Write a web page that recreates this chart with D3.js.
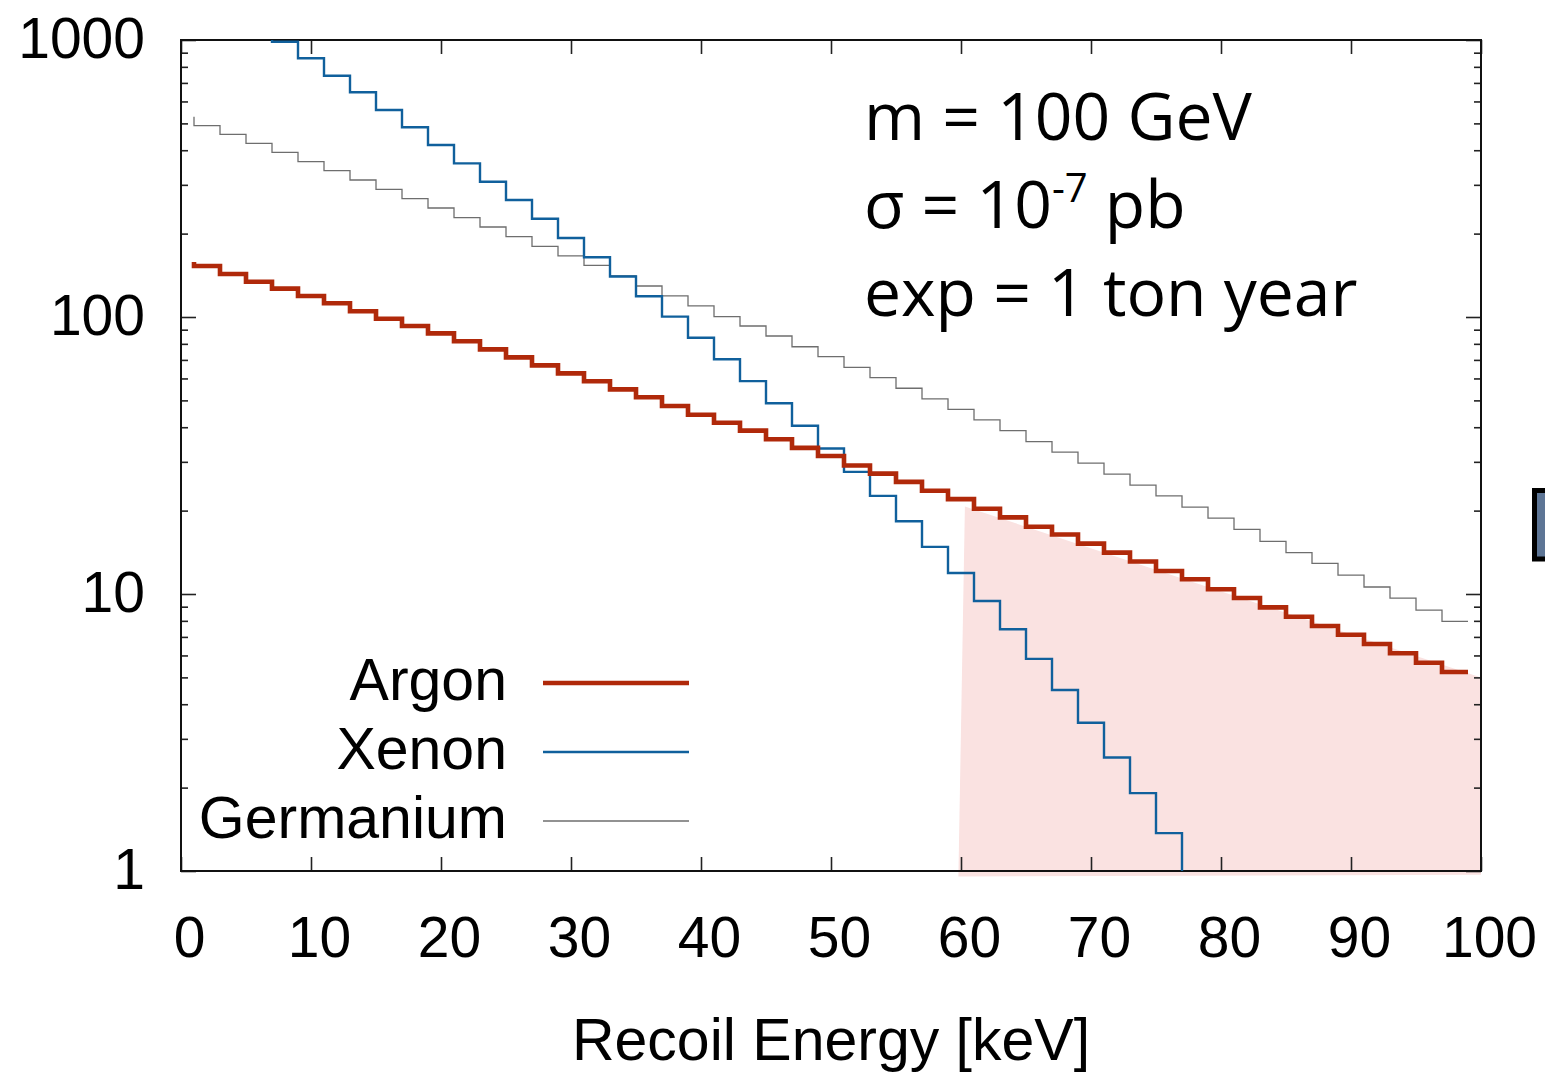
<!DOCTYPE html>
<html>
<head>
<meta charset="utf-8">
<script src="https://cdn.jsdelivr.net/npm/d3@7/dist/d3.min.js"></script>
<style>
  body { margin: 0; background: #fff; }
  svg { display: block; }
</style>
</head>
<body>
<div id="wrapper"></div>
<script>
// bin edges (keV) and rates
const argonEnergy = [1, 3, 5, 7, 9, 11, 13, 15, 17, 19, 21, 23, 25, 27, 29, 31, 33, 35, 37, 39,
    41, 43, 45, 47, 49, 51, 53, 55, 57, 59, 61, 63, 65, 67, 69, 71, 73, 75, 77, 79,
    81, 83, 85, 87, 89, 91, 93, 95, 97, 99];
const argonRate = [158, 152.8, 143.0, 134.1, 126.6, 119.1, 112.1, 104.9, 98.6, 92.8,
    87.3, 81.7, 76.4, 71.5, 66.9, 62.6, 58.6, 54.8, 51.3, 47.7,
    44.4, 41.5, 38.9, 36.2, 33.7, 31.5, 29.1, 27.2, 25.4, 23.6,
    22.0, 20.3, 18.9, 17.5, 16.4, 15.2, 14.1, 13.1, 12.1, 11.3,
    10.4, 9.67, 8.95, 8.28, 7.66, 7.13, 6.60, 6.11, 5.65, 5.23];

const germaniumEnergy = argonEnergy;
const germaniumRate = [528.6, 490.5, 456.6, 423.8, 393.2, 363.6, 337.5, 312.3, 289.1, 267.4,
    247.5, 228.3, 211.3, 194.9, 180.0, 166.1, 153.5, 140.6, 129.4, 119.1,
    109.6, 100.3, 92.8, 85.4, 78.1, 71.9, 65.8, 60.4, 55.3, 50.6,
    46.4, 42.5, 38.9, 35.5, 32.5, 29.7, 27.1, 24.7, 22.6, 20.6,
    18.8, 17.1, 15.5, 14.1, 12.9, 11.7, 10.6, 9.67, 8.75, 7.97];

const xenonEnergy = [7, 9, 11, 13, 15, 17, 19, 21, 23, 25, 27, 29, 31, 33, 35, 37, 39, 41, 43,
    45, 47, 49, 51, 53, 55, 57, 59, 61, 63, 65, 67, 69, 71, 73, 75, 77, 79];
const xenonRate = [1150, 986, 859, 743, 647.6, 558.9, 484, 417.7, 358.7, 307.8,
    264.5, 226.4, 192.8, 164.3, 140.0, 118.8, 100.3, 84.2, 70.4, 58.7,
    48.8, 40.5, 33.5, 27.6, 22.6, 18.3, 14.8, 11.9, 9.43, 7.46,
    5.83, 4.50, 3.43, 2.57, 1.91, 1.37, 0.9];

// shaded region (corners in keV / rate)
const shadeEnergy = [60.3, 100, 100, 59.8];
const shadeRate = [20.7, 5.0, 0.97, 0.955];

const xTicks = [0, 10, 20, 30, 40, 50, 60, 70, 80, 90, 100];
const yTicks = [1, 10, 100, 1000];
const yMinorTicks = [2, 3, 4, 5, 6, 7, 8, 9, 20, 30, 40, 50, 60, 70, 80, 90, 200, 300, 400, 500, 600, 700, 800, 900];

const seriesNames = ["Argon", "Xenon", "Germanium"];
const seriesColors = ["#b0290a", "#10609c", "#6e6e6e"];
const seriesWidths = [4.6, 2.4, 1.3];

const dimension = {
    width: 1545,
    height: 1074,
    margin: { top: 40, left: 181, bottom: 203, right: 64 }
};
dimension.boundedWidth = dimension.width - dimension.margin.left - dimension.margin.right;
dimension.boundedHeight = dimension.height - dimension.margin.top - dimension.margin.bottom;

const svg = d3.select("#wrapper").append("svg")
    .attr("width", dimension.width)
    .attr("height", dimension.height);

const bounded = svg.append("g")
    .attr("transform", `translate(${dimension.margin.left},${dimension.margin.top})`);

const xScaler = d3.scaleLinear().domain([0, 100]).range([0, dimension.boundedWidth]);
const yScaler = d3.scaleLog().domain([1, 1000]).range([dimension.boundedHeight, 0]);

svg.append("defs").append("clipPath").attr("id", "plotclip")
    .append("rect")
    .attr("width", dimension.boundedWidth)
    .attr("height", dimension.boundedHeight);

// pink band
const shadePts = shadeEnergy.map((e, i) => [xScaler(e), yScaler(shadeRate[i])]);
bounded.append("path")
    .attr("d", d3.line()(shadePts) + "Z")
    .attr("fill", "#fae2e1");

// axes (inward ticks on all four sides)
const tickFont = "'Liberation Sans', Arial, Helvetica, sans-serif";

const xAxis = bounded.append("g")
    .attr("transform", `translate(0,${dimension.boundedHeight})`)
    .call(d3.axisBottom(xScaler).tickValues(xTicks).tickSize(-14).tickPadding(46));
xAxis.selectAll("text").attr("dx", 8);

bounded.append("g")
    .call(d3.axisTop(xScaler).tickValues(xTicks).tickSize(-14).tickFormat(""));

const yAxis = bounded.append("g")
    .call(d3.axisLeft(yScaler).tickValues(yTicks).tickSize(-15).tickPadding(36).tickFormat(d3.format("d")));
yAxis.selectAll("text").attr("dy", "0.3em");

bounded.append("g")
    .call(d3.axisLeft(yScaler).tickValues(yMinorTicks).tickSize(-7).tickFormat(""));
bounded.append("g")
    .attr("transform", `translate(${dimension.boundedWidth},0)`)
    .call(d3.axisRight(yScaler).tickValues(yTicks).tickSize(-15).tickFormat(""));
bounded.append("g")
    .attr("transform", `translate(${dimension.boundedWidth},0)`)
    .call(d3.axisRight(yScaler).tickValues(yMinorTicks).tickSize(-7).tickFormat(""));

bounded.selectAll(".domain").remove();
bounded.selectAll(".tick line").attr("stroke", "#222").attr("stroke-width", 1.6);
bounded.selectAll(".tick text")
    .attr("font-family", tickFont)
    .attr("font-size", 57)
    .attr("fill", "#000");

// frame
bounded.append("rect")
    .attr("width", dimension.boundedWidth)
    .attr("height", dimension.boundedHeight)
    .attr("fill", "none")
    .attr("stroke", "#111")
    .attr("stroke-width", 2);

// step lines
const lineGenerator = d3.line()
    .x(d => xScaler(d[0]))
    .y(d => yScaler(d[1]))
    .curve(d3.curveStepBefore);

const series = [
    argonEnergy.map((e, i) => [e, argonRate[i]]),
    xenonEnergy.map((e, i) => [e, xenonRate[i]]),
    germaniumEnergy.map((e, i) => [e, germaniumRate[i]])
];

const lines = bounded.append("g").attr("clip-path", "url(#plotclip)");
[2, 1, 0].forEach(i => {
    lines.append("path")
        .attr("fill", "none")
        .attr("stroke", seriesColors[i])
        .attr("stroke-width", seriesWidths[i])
        .attr("d", lineGenerator(series[i]));
});

// legend
const legend = svg.append("g");
seriesNames.forEach((name, i) => {
    const ly = 683 + i * 69;
    legend.append("text")
        .attr("x", 507)
        .attr("y", ly + 17)
        .attr("text-anchor", "end")
        .attr("font-family", tickFont)
        .attr("font-size", 59)
        .text(name);
    legend.append("line")
        .attr("x1", 543).attr("x2", 689)
        .attr("y1", ly).attr("y2", ly)
        .attr("stroke", seriesColors[i])
        .attr("stroke-width", seriesWidths[i]);
});

// x axis title
svg.append("text")
    .attr("x", dimension.margin.left + xScaler(50))
    .attr("y", 1060)
    .attr("text-anchor", "middle")
    .attr("font-family", tickFont)
    .attr("font-size", 59)
    .text("Recoil Energy [keV]");

// annotation
const noteFont = "'Open Sans', 'Noto Sans', sans-serif";
const note = svg.append("g")
    .attr("font-family", noteFont)
    .attr("font-size", 66)
    .attr("fill", "#000");
note.append("text").attr("x", 864).attr("y", 140).text("m = 100 GeV");
const sig = note.append("text").attr("x", 864).attr("y", 228);
sig.append("tspan").text("σ = 10");
sig.append("tspan").attr("font-size", 40).attr("dy", -26).text("-7");
sig.append("tspan").attr("dy", 26).text(" pb");
note.append("text").attr("x", 864).attr("y", 316).text("exp = 1 ton year");

// cut-off box at right edge of the picture
svg.append("rect")
    .attr("x", 1534.5).attr("y", 490.5)
    .attr("width", 30).attr("height", 68.5)
    .attr("fill", "#5d7595")
    .attr("stroke", "#000")
    .attr("stroke-width", 5);
</script>
</body>
</html>
